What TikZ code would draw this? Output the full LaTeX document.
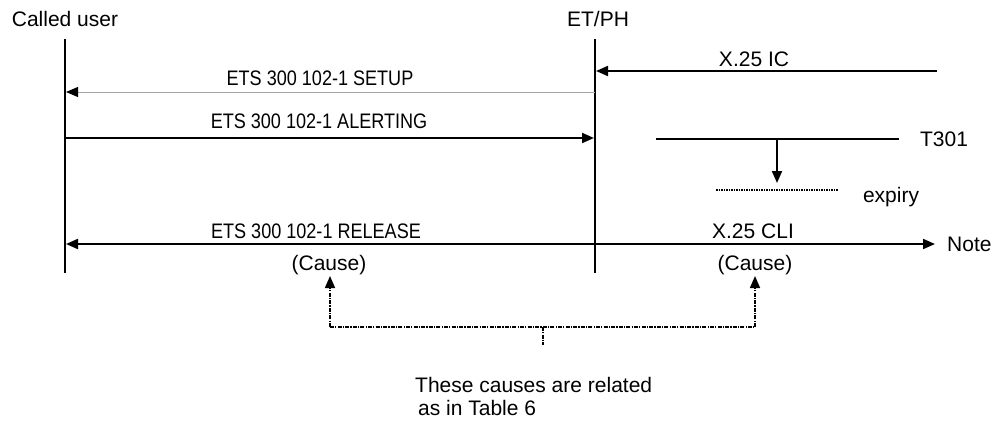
\documentclass[tikz,border=0pt]{standalone}
\usepackage{fontspec}
\setmainfont{Liberation Sans}
\newfontfamily\condfont[FakeStretch=0.86]{Liberation Sans}
\usetikzlibrary{arrows.meta}
\begin{document}
\begin{tikzpicture}[x=1pt,y=-1pt,
  lbl/.style={inner sep=0pt,anchor=base,font=\fontsize{21}{25}\selectfont},
  clbl/.style={inner sep=0pt,anchor=base,font=\fontsize{21}{25}\condfont},
  life/.style={line width=2pt},
  msg/.style={line width=2pt,-{Triangle[length=12pt,width=10pt]}},
  faint/.style={line width=1pt,draw=black!35,-{Triangle[length=12pt,width=10pt,fill=black,color=black]}},
  tmr/.style={line width=2pt},
  expline/.style={line width=1.6pt,dash pattern=on 1.5pt off 1pt},
  link/.style={line width=1.6pt,dash pattern=on 4pt off 1.2pt on 1.2pt off 1.2pt},
  linkarrow/.style={link,-{Triangle[length=12pt,width=10pt]}}]
\useasboundingbox (0,0) rectangle (1003,423);

% lifelines
\node[lbl] (cu) at (65,27) {Called user};
\node[lbl] (et) at (598,27) {ET/PH};
\coordinate (cuT) at (65,39);  \coordinate (cuB) at (65,273);
\coordinate (etT) at (595,39); \coordinate (etB) at (595,273);
\draw[life] (cuT) -- (cuB);
\draw[life] (etT) -- (etB);

% X.25 IC from the network side
\coordinate (icS) at (937,71); \coordinate (icE) at (596,71);
\draw[msg] (icS) -- (icE);
\node[lbl] (icL) at (754,66) {X.25 IC};

% SETUP towards the called user
\coordinate (suS) at (595,92); \coordinate (suE) at (66,92);
\draw[faint] (suS) -- (suE);
\node[clbl] (suL) at (320,85) {ETS 300 102-1 SETUP};

% ALERTING back to ET/PH
\coordinate (alS) at (65,138); \coordinate (alE) at (594,138);
\draw[msg] (alS) -- (alE);
\node[clbl] (alL) at (319,128) {ETS 300 102-1 ALERTING};

% timer T301
\coordinate (tA) at (656,139); \coordinate (tB) at (899,139);
\draw[tmr] (tA) -- (tB);
\node[lbl] (tL) at (944,146) {T301};
\coordinate (tD) at (777,139); \coordinate (tX) at (777,183);
\draw[msg] (tD) -- (tX);
\coordinate (xA) at (716,190); \coordinate (xB) at (838,190);
\draw[expline] (xA) -- (xB);
\node[lbl] (xL) at (891,202) {expiry};

% RELEASE / X.25 CLI
\coordinate (rlL) at (66,244); \coordinate (rlR) at (935,244);
\draw[line width=2pt,{Triangle[length=12pt,width=10pt]}-{Triangle[length=12pt,width=10pt]}] (rlL) -- (rlR);
\node[lbl,anchor=base west] (nt) at (947,251.5) {Note};
\node[clbl] (rlT) at (316,238) {ETS 300 102-1 RELEASE};
\node[lbl] (clT) at (753,238) {X.25 CLI};
\node[lbl] (c1) at (329,270) {(Cause)};
\node[lbl] (c2) at (755,270) {(Cause)};

% relation between the two causes
\coordinate (bL) at (330,327); \coordinate (bR) at (755,327);
\coordinate (bM) at (543,327); \coordinate (bS) at (543,345);
\coordinate (aL) at (330,276); \coordinate (aR) at (755,276);
\draw[link] (bL) -- (bR);
\draw[link] (bM) -- (bS);
\draw[linkarrow] (bL) -- (aL);
\draw[linkarrow] (bR) -- (aR);
\node[lbl,anchor=base west] (nt1) at (415,392) {These causes are related};
\node[lbl,anchor=base west] (nt2) at (418,415) {as in Table 6};
\end{tikzpicture}
\end{document}
